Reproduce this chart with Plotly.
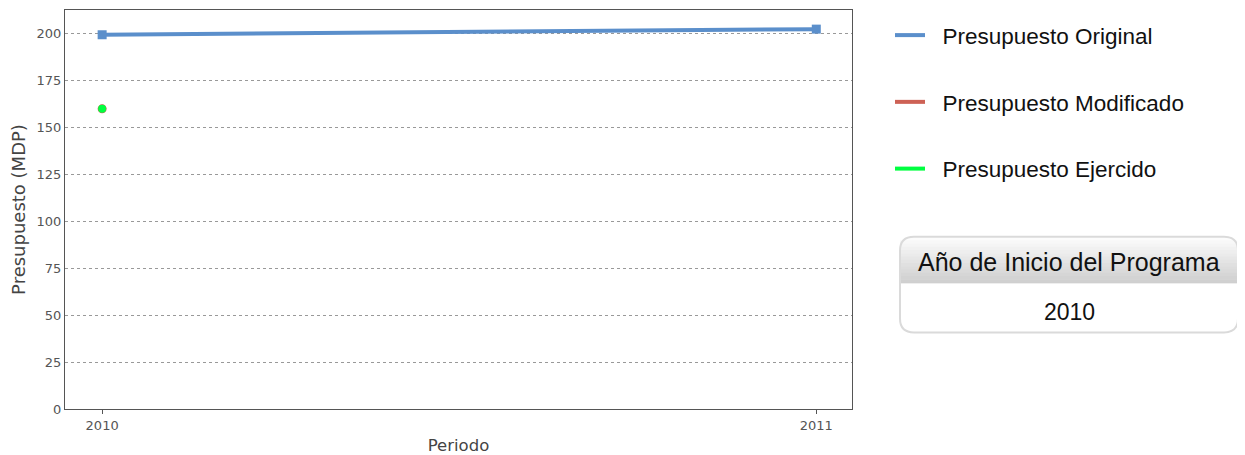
import plotly.graph_objects as go

periodos = [2010, 2011]
original = [199.5, 202.5]
modificado = [160, None]
ejercido = [160, None]
anio_inicio = "2010"
series_names = ["Presupuesto Original", "Presupuesto Modificado", "Presupuesto Ejercido"]

blue = "#5b8fcb"
red = "#cd6155"
green = "#00ff40"

fig = go.Figure()
fig.add_trace(go.Scatter(x=periodos, y=modificado, mode="lines+markers", line=dict(color=red, width=4),
                         marker=dict(symbol="circle", size=9, color=red), showlegend=False))
fig.add_trace(go.Scatter(x=periodos, y=ejercido, mode="lines+markers", line=dict(color=green, width=4),
                         marker=dict(symbol="circle", size=8, color=green), showlegend=False))
fig.add_trace(go.Scatter(x=periodos, y=original, mode="lines+markers", line=dict(color=blue, width=4),
                         marker=dict(symbol="square", size=9, color=blue), showlegend=False))

for name, col in zip(series_names, [blue, red, green]):
    fig.add_trace(go.Scatter(x=[None], y=[None], mode="lines", name="\u00a0\u00a0" + name,
                             line=dict(color=col, width=4), legendgroup=name, showlegend=True))

OFF = 8  # page body margin
W, H = 1245 - OFF, 455 - OFF
L = 65 - OFF
T = 9 - OFF
R = W - (852 - OFF)
B = H - (410 - OFF)
pw, ph = W - L - R, H - T - B

def px(xp):
    return (xp - OFF - L) / pw

def py(yp):
    return (H - B - (yp - OFF)) / ph

x0, x1, y0, y1, ymid = 900, 1238, 237, 333, 283
r = 14
rx, ry = r / pw, r / ph
X0, X1, Y0, Y1 = px(x0), px(x1), py(y0), py(y1)

def rounded(X0, X1, Ytop, Ybot, top=True, bottom=True):
    p = []
    if top:
        p.append(f"M {X0} {Ytop - ry} Q {X0} {Ytop} {X0 + rx} {Ytop} L {X1 - rx} {Ytop} Q {X1} {Ytop} {X1} {Ytop - ry}")
    else:
        p.append(f"M {X0} {Ytop} L {X1} {Ytop}")
    if bottom:
        p.append(f"L {X1} {Ybot + ry} Q {X1} {Ybot} {X1 - rx} {Ybot} L {X0 + rx} {Ybot} Q {X0} {Ybot} {X0} {Ybot + ry} Z")
    else:
        p.append(f"L {X1} {Ybot} L {X0} {Ybot} Z")
    return " ".join(p)

shapes = []
nb = 14
for i in range(nb):
    t0 = y0 + (ymid - y0) * i / nb
    t1 = y0 + (ymid - y0) * (i + 1) / nb + 0.5
    g = int(252 - 44 * (i / (nb - 1)))
    col = f"rgb({g},{g},{g})"
    shapes.append(dict(type="path", xref="paper", yref="paper",
                       path=rounded(X0, X1, py(t0), py(t1), top=(i == 0), bottom=False),
                       fillcolor=col, line=dict(width=0), layer="above"))
shapes.append(dict(type="line", xref="paper", yref="paper", x0=X0, x1=X1, y0=py(ymid), y1=py(ymid),
                   line=dict(color="#cfcfcf", width=1)))
shapes.append(dict(type="path", xref="paper", yref="paper", path=rounded(X0, X1, Y0, Y1),
                   fillcolor="rgba(0,0,0,0)", line=dict(color="#dadada", width=2)))

annotations = [
    dict(xref="paper", yref="paper", x=px((x0 + x1) / 2), y=py(262), text="Año de Inicio del Programa",
         showarrow=False, font=dict(family="Liberation Sans, Arial", size=25, color="#111"),
         xanchor="center", yanchor="middle"),
    dict(xref="paper", yref="paper", x=px((x0 + x1) / 2), y=py(313), text=anio_inicio,
         showarrow=False, font=dict(family="Liberation Sans, Arial", size=23, color="#111"),
         xanchor="center", yanchor="middle"),
]

fig.update_layout(
    width=W, height=H,
    margin=dict(l=L, r=R, t=T, b=B),
    plot_bgcolor="white", paper_bgcolor="white",
    showlegend=True,
    legend=dict(x=px(890), y=py(13), xanchor="left", yanchor="top",
                font=dict(family="Liberation Sans, Arial", size=22.5, color="#111"),
                itemwidth=30, tracegroupgap=34.5, bgcolor="rgba(0,0,0,0)"),
    xaxis=dict(range=[2009.948, 2011.05], tickvals=periodos, ticktext=[str(p) for p in periodos],
               showgrid=False, zeroline=False, showline=True, linecolor="#555", linewidth=1, mirror=True,
               ticks="outside", ticklen=4, tickcolor="#555",
               tickfont=dict(family="DejaVu Sans", size=13, color="#555"),
               title=dict(text="Periodo", font=dict(family="DejaVu Sans", size=16.5, color="#444"),
                          standoff=10)),
    yaxis=dict(range=[0, 212.7], tickvals=[0, 25, 50, 75, 100, 125, 150, 175, 200],
               showgrid=True, gridcolor="#999", griddash="dot", gridwidth=1,
               zeroline=False, showline=True, linecolor="#555", linewidth=1, mirror=True,
               ticks="", tickfont=dict(family="DejaVu Sans", size=13, color="#555"),
               title=dict(text="Presupuesto (MDP)", font=dict(family="DejaVu Sans", size=18, color="#444"),
                          standoff=6)),
    shapes=shapes,
    annotations=annotations,
)

fig.write_html("out.html")
